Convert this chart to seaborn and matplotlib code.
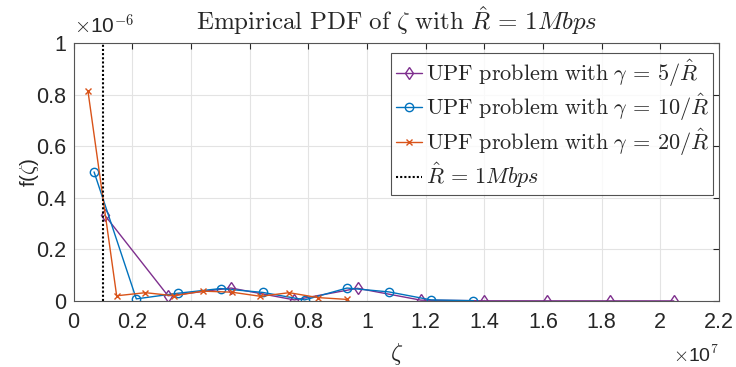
import matplotlib
matplotlib.use("Agg")
import matplotlib.pyplot as plt
import seaborn as sns
import pandas as pd

# ---- data (zeta in bit/s, pdf values) ----
zeta_g5 = [1.06e6, 3.22e6, 5.37e6, 7.53e6, 9.68e6, 1.184e7, 1.40e7, 1.615e7, 1.83e7, 2.046e7]
pdf_g5 = [0.333e-6, 0.020e-6, 0.050e-6, 0.004e-6, 0.049e-6, 0.003e-6, 0.0006e-6, 0.0004e-6, 0.0003e-6, 0.0002e-6]

zeta_g10 = [0.70e6, 2.14e6, 3.57e6, 5.01e6, 6.45e6, 7.88e6, 9.32e6, 1.075e7, 1.219e7, 1.363e7]
pdf_g10 = [0.500e-6, 0.008e-6, 0.030e-6, 0.048e-6, 0.033e-6, 0.004e-6, 0.050e-6, 0.035e-6, 0.004e-6, 0.001e-6]

zeta_g20 = [0.49e6, 1.47e6, 2.45e6, 3.43e6, 4.41e6, 5.39e6, 6.37e6, 7.35e6, 8.33e6, 9.31e6]
pdf_g20 = [0.815e-6, 0.020e-6, 0.032e-6, 0.020e-6, 0.038e-6, 0.034e-6, 0.018e-6, 0.032e-6, 0.013e-6, 0.006e-6]

R_hat = 1e6

series_labels = [r"$\mathrm{UPF\ problem\ with}\ \gamma\,=\,5/\hat{R}$",
                 r"$\mathrm{UPF\ problem\ with}\ \gamma\,=\,10/\hat{R}$",
                 r"$\mathrm{UPF\ problem\ with}\ \gamma\,=\,20/\hat{R}$"]
rhat_label = r"$\hat{R}\,=\,1Mbps$"
title_text = r"$\mathrm{Empirical\ PDF\ of}\ \zeta\ \mathrm{with}\ \hat{R}\,=\,1Mbps$"

xticks = [0, 0.2, 0.4, 0.6, 0.8, 1, 1.2, 1.4, 1.6, 1.8, 2, 2.2]
xtick_labels = ["0", "0.2", "0.4", "0.6", "0.8", "1", "1.2", "1.4", "1.6", "1.8", "2", "2.2"]
yticks = [0, 0.2, 0.4, 0.6, 0.8, 1]
ytick_labels = ["0", "0.2", "0.4", "0.6", "0.8", "1"]

XS = 1e7   # x exponent
YS = 1e-6  # y exponent

sns.set_style("white")
plt.rcParams["mathtext.fontset"] = "cm"
plt.rcParams["font.family"] = ["Liberation Sans", "DejaVu Sans"]

fig = plt.figure(figsize=(7.36, 3.67), dpi=100)
ax = fig.add_axes([0.0999, 0.18, 0.877, 0.703])

colors = ["#7E2F8E", "#0072BD", "#D95319"]
markers = ["d", "o", "x"]
msizes = [6.5, 6.0, 5.0]
datasets = [(zeta_g5, pdf_g5), (zeta_g10, pdf_g10), (zeta_g20, pdf_g20)]

for (zx, py), col, mk, ms, lab in zip(datasets, colors, markers, msizes, series_labels):
    df = pd.DataFrame({"zeta": [v / XS for v in zx], "pdf": [v / YS for v in py]})
    kw = dict(markerfacecolor="none", markeredgecolor=col, markeredgewidth=1.0)
    sns.lineplot(data=df, x="zeta", y="pdf", ax=ax, color=col, marker=mk,
                 markersize=ms, linewidth=1.0, label=lab,
                 sort=False, estimator=None, **kw)

ax.axvline(R_hat / XS, color="black", linestyle=(0, (1, 1)), linewidth=1.5, label=rhat_label)

ax.set_xlim(0, 2.2)
ax.set_ylim(0, 1)
ax.set_xticks(xticks)
ax.set_xticklabels(xtick_labels)
ax.set_yticks(yticks)
ax.set_yticklabels(ytick_labels)
ax.tick_params(axis="both", direction="in", length=4, width=0.8, color="#262626",
               labelsize=15.5, labelcolor="#262626", top=True, right=True)
ax.tick_params(axis="x", pad=8)
ax.tick_params(axis="y", pad=5)
ax.grid(True, color="#e3e3e3", linewidth=0.8)
ax.set_axisbelow(True)
for sp in ax.spines.values():
    sp.set_color("#555555")
    sp.set_linewidth(0.8)
    sp.set_visible(True)

ax.set_xlabel(r"$\zeta$", fontsize=17, labelpad=6)
ax.set_ylabel(r"f($\zeta$)", fontsize=15, labelpad=-3)
ax.set_title(title_text, fontsize=18, pad=9)

ax.text(0.0, 1.02, r"$\times$10$^{-6}$", transform=ax.transAxes, fontsize=15,
        ha="left", va="bottom", color="#262626")
ax.text(1.0, -0.235, r"$\times$10$^{7}$", transform=ax.transAxes, fontsize=14,
        ha="right", va="baseline", color="#262626")

leg = ax.legend(loc="upper right", bbox_to_anchor=(0.991, 0.961), borderaxespad=0,
                fontsize=16, frameon=True, fancybox=False,
                handlelength=1.2, handletextpad=0.15, labelspacing=0.15,
                borderpad=0.2)
leg.get_frame().set_edgecolor("#262626")
leg.get_frame().set_linewidth(0.8)

fig.savefig("out.png", dpi=100)
